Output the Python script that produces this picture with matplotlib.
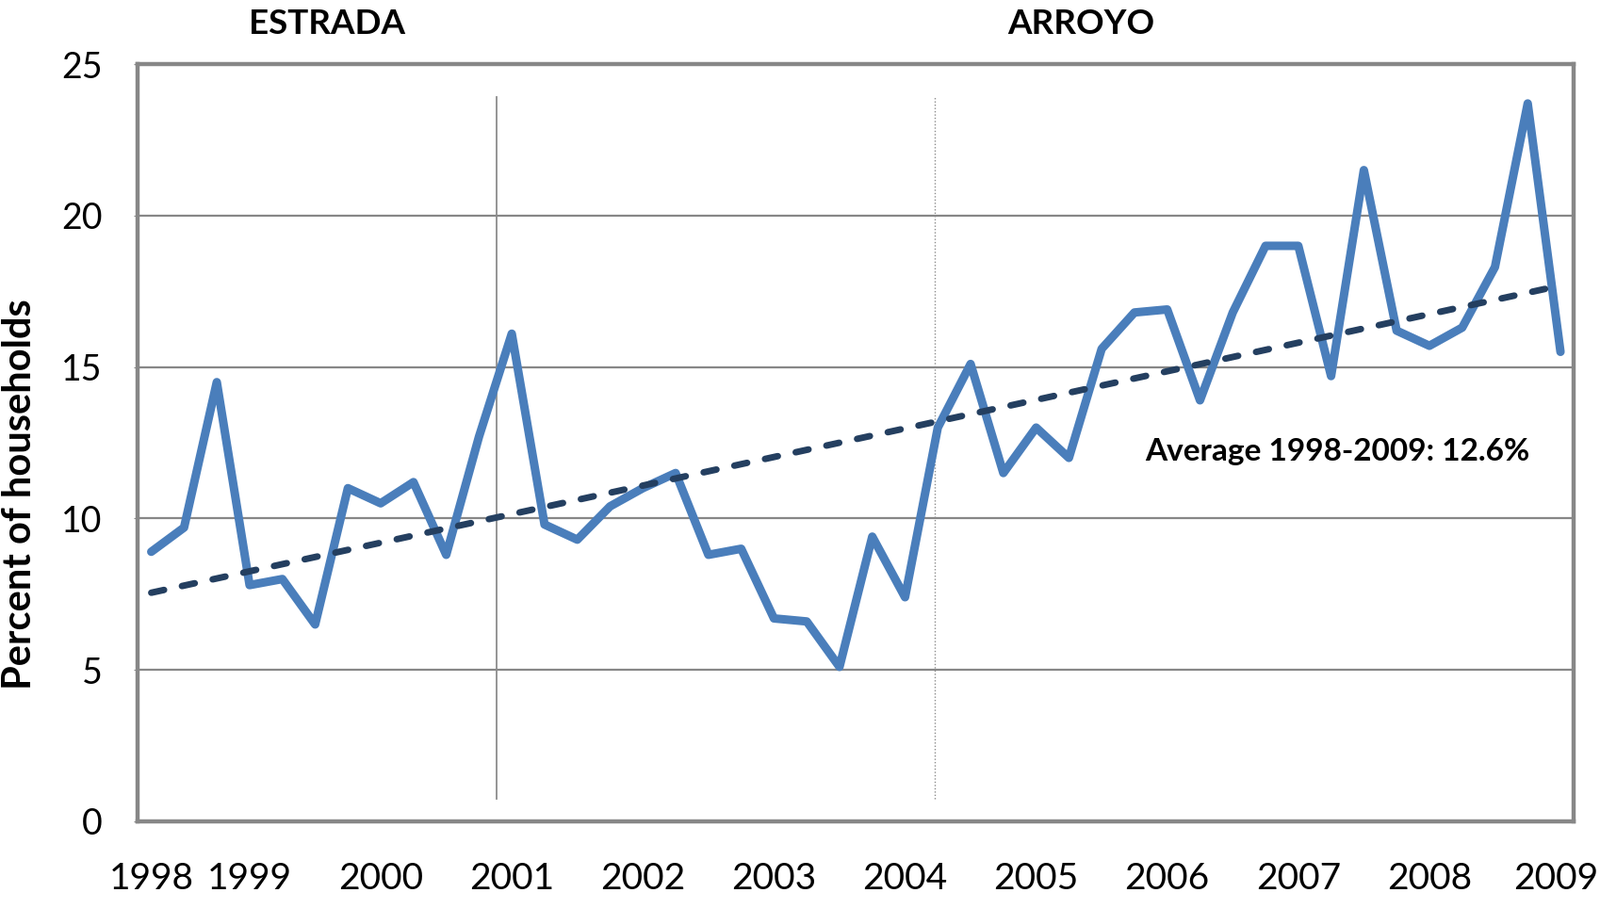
import numpy as np
import matplotlib
matplotlib.use('Agg')
import matplotlib.pyplot as plt

plt.rcParams['font.family'] = ['Lato', 'DejaVu Sans']

# quarterly share of households (percent), 1998 to 2008
pct = [8.9, 9.7, 14.5, 7.8, 8.0, 6.5, 11.0, 10.5, 11.2, 8.8,
       12.7, 16.1, 9.8, 9.3, 10.4, 11.0, 11.5, 8.8, 9.0, 6.7,
       6.6, 5.1, 9.4, 7.4, 13.0, 15.1, 11.5, 13.0, 12.0, 15.6,
       16.8, 16.9, 13.9, 16.8, 19.0, 19.0, 14.7, 21.5, 16.2, 15.7,
       16.3, 18.3, 23.7, 15.5]
year_pos = [0, 3, 7, 11, 15, 19, 23, 27, 31, 35, 39, 42.85]
year_labels = ['1998', '1999', '2000', '2001', '2002', '2003',
               '2004', '2005', '2006', '2007', '2008', '2009']
estrada_end = 10.55   # change of president
arroyo_term = 23.9    # second Arroyo term

x = np.arange(len(pct))
slope, icpt = np.polyfit(x, pct, 1)

fig = plt.figure(figsize=(16.98, 9.65), dpi=100)
ax = fig.add_axes([0.086, 0.0964, 0.8975, 0.8331])

grid_c = '#878787'
for yv in [5, 10, 15, 20]:
    ax.axhline(yv, color=grid_c, lw=1.6, zorder=1)

ax.plot([estrada_end, estrada_end], [0.75, 23.9], color='#8c8c8c', lw=1.3, zorder=1)
ax.plot([arroyo_term, arroyo_term], [0.75, 23.9], color='#8c8c8c', lw=1.0,
        ls=(0, (1, 1.5)), zorder=1)

ax.plot(x, pct, color='#4A7EBB', lw=6.5, solid_joinstyle='round',
        solid_capstyle='round', zorder=3)
ax.plot(x, icpt + slope * x, color='#243F60', lw=5, ls=(0, (2.0, 2.8)),
        dash_capstyle='round', zorder=4)

ax.set_xlim(-0.417, 43.4)
ax.set_ylim(0, 25)
ax.set_yticks([0, 5, 10, 15, 20, 25])
ax.set_xticks(year_pos)
ax.set_xticklabels(year_labels)
ax.tick_params(axis='y', labelsize=27, length=3, color=grid_c, pad=24)
ax.tick_params(axis='x', labelsize=28, length=0, pad=31)

for s in ax.spines.values():
    s.set_color(grid_c)
    s.set_linewidth(3.2)

ax.text(36.2, 12.2, 'Average 1998-2009: 12.6%', fontsize=24, fontweight='bold',
        ha='center', va='center')

fig.text(347 / 1698, 1 - 25 / 965, 'ESTRADA', fontsize=26.5, fontweight='bold',
         ha='center', va='center')
fig.text(1147 / 1698, 1 - 25 / 965, 'ARROYO', fontsize=26.5, fontweight='bold',
         ha='center', va='center')
fig.text(21 / 1698, 1 - 525 / 965, 'Percent of households', fontsize=30,
         fontweight='bold', rotation=90, ha='center', va='center')

fig.savefig('out.png', dpi=100)
